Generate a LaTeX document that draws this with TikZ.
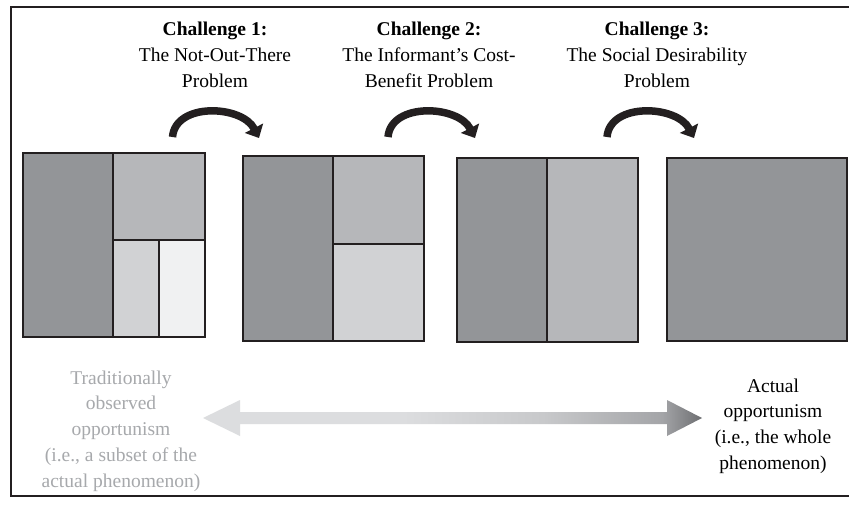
\documentclass[tikz,border=0pt]{standalone}
\usepackage{fontspec}
\setmainfont{Liberation Serif}
\usetikzlibrary{arrows.meta,calc}
\definecolor{gdark}{HTML}{939598}
\definecolor{gmid}{HTML}{B6B7BA}
\definecolor{glight}{HTML}{D1D2D4}
\definecolor{gpale}{HTML}{F0F1F2}
\definecolor{edgec}{HTML}{231F20}
\definecolor{txtgray}{HTML}{A7A9AC}
\definecolor{gA}{HTML}{DCDDDF}
\definecolor{gB}{HTML}{C8C9CB}
\definecolor{gC}{HTML}{A4A5A8}
\definecolor{gD}{HTML}{6D6E71}
\pgfdeclarehorizontalshading{gradarrow}{100bp}{color(0bp)=(gA); color(45bp)=(gA); color(59bp)=(gB); color(71bp)=(gC); color(75bp)=(gD); color(100bp)=(gD)}
\tikzset{
  frame/.style={draw=edgec, line width=2.3pt},
  cell/.style={draw=edgec, line width=2pt},
  carrow/.style={draw=edgec, line width=7.5pt, -{Triangle[length=11pt,width=20pt]}},
  ttl/.style={align=center, inner sep=0pt, anchor=north, font=\fontsize{19.5}{25.7}\selectfont},
}
\begin{document}
\begin{tikzpicture}[x=1pt,y=-1pt]
\useasboundingbox (0,0) rectangle (849,504);
\fill[white] (0,0) rectangle (849,504);
% frame
\draw[frame] (849,7) -- (11,7) -- (11,496) -- (849,496);

% panel 1
\filldraw[cell, fill=gdark] (23,153) rectangle (113,337);
\filldraw[cell, fill=gmid] (113,153) rectangle (205,240);
\filldraw[cell, fill=glight] (113,240) rectangle (159,337);
\filldraw[cell, fill=gpale] (159,240) rectangle (205,337);
\draw[cell] (23,153) rectangle (205,337);

% panel 2
\filldraw[cell, fill=gdark] (243,156) rectangle (333,341);
\filldraw[cell, fill=gmid] (333,156) rectangle (424,244);
\filldraw[cell, fill=glight] (333,244) rectangle (424,341);
\draw[cell] (243,156) rectangle (424,341);

% panel 3
\filldraw[cell, fill=gdark] (457,158) rectangle (547,342);
\filldraw[cell, fill=gmid] (547,158) rectangle (638,342);
\draw[cell] (457,158) rectangle (638,342);

% panel 4
\filldraw[cell, fill=gdark] (667,158) rectangle (847,341);

% titles
\node[ttl] (c1) at (215,22) {\textbf{Challenge 1:}\\The Not-Out-There\\Problem};
\node[ttl] (c2) at (429,22) {\textbf{Challenge 2:}\\The Informant’s Cost-\\Benefit Problem};
\node[ttl] (c3) at (657,22) {\textbf{Challenge 3:}\\The Social Desirability\\Problem};

% curved arrows
\coordinate (a1s) at (172.5,137);
\coordinate (a1e) at (259,138);
\coordinate (a2s) at (388,137);
\coordinate (a2e) at (475,138);
\coordinate (a3s) at (607,137);
\coordinate (a3e) at (694,138);
\draw[carrow] (a1s) .. controls +(3,-35) and +(-17,-33) .. (a1e);
\draw[carrow] (a2s) .. controls +(3,-35) and +(-17,-33) .. (a2e);
\draw[carrow] (a3s) .. controls +(3,-35) and +(-17,-33) .. (a3e);

% bottom texts
\node[ttl, text=txtgray] (lt) at (121,370.5) {Traditionally\\observed\\opportunism\\(i.e., a subset of the\\actual phenomenon)};
\node[ttl] (rt) at (773,378.5) {Actual\\opportunism\\(i.e., the whole\\phenomenon)};

% gradient double arrow
\coordinate (L) at (203,418);
\coordinate (R) at (702,418);
\shade[shading=gradarrow] (L) -- ++(37,-18) -- ++(0,12) -- ($(R)+(-35,-6)$) -- ++(0,-12) -- (R)
  -- ++(-35,18) -- ++(0,-12) -- ($(L)+(37,6)$) -- ++(0,12) -- cycle;
\end{tikzpicture}
\end{document}
